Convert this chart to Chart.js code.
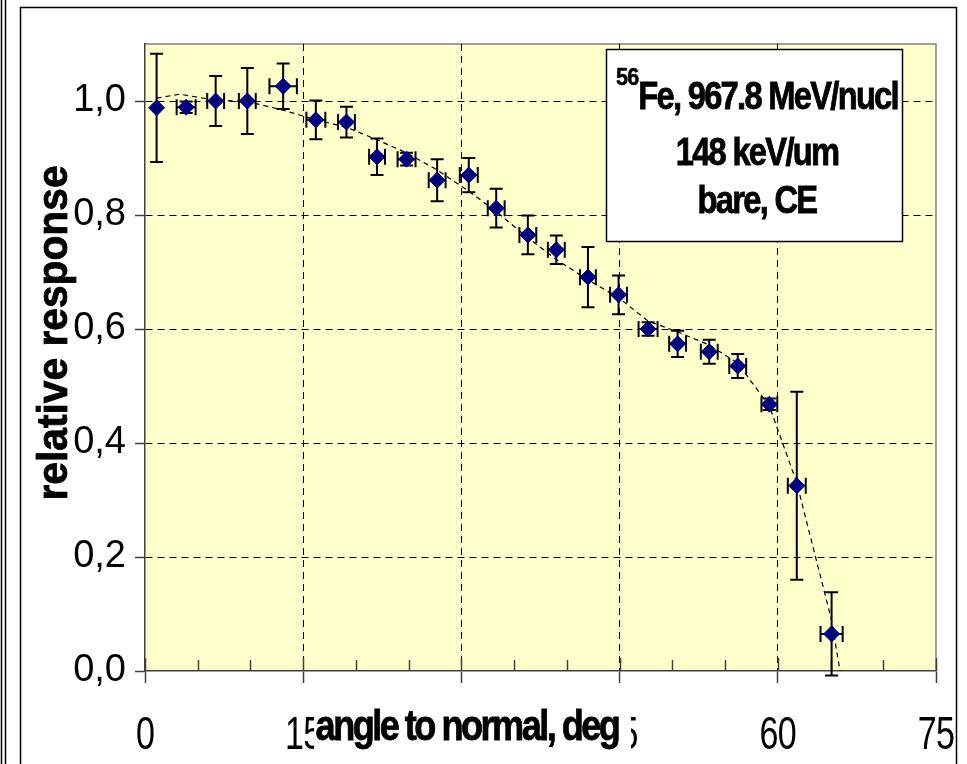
<!DOCTYPE html>
<html>
<head>
<meta charset="utf-8">
<script src="https://cdn.jsdelivr.net/npm/chart.js@4.4.0/dist/chart.umd.min.js"></script>
<style>
  html, body { margin: 0; padding: 0; background: #fff; }
  #wrap { width: 967px; height: 764px; }
</style>
</head>
<body>
<div id="wrap"><canvas id="chart" width="967" height="764"></canvas></div>
<script>
// measured points (angle in deg, relative response) with error bars
const angles = [1.1, 3.9, 6.7, 9.7, 13.1, 16.2, 19.1, 22.0, 24.8, 27.7, 30.7, 33.3, 36.3, 39.0, 42.0, 44.9, 47.7, 50.5, 53.5, 56.2, 59.2, 61.8, 65.1];
const response = [0.988, 0.989, 1.000, 1.000, 1.026, 0.967, 0.963, 0.902, 0.898, 0.861, 0.870, 0.812, 0.765, 0.739, 0.691, 0.660, 0.600, 0.574, 0.560, 0.535, 0.468, 0.325, 0.065];
const respErr = [0.095, 0.010, 0.044, 0.058, 0.040, 0.034, 0.027, 0.032, 0.011, 0.037, 0.030, 0.034, 0.034, 0.025, 0.053, 0.034, 0.012, 0.023, 0.021, 0.021, 0.010, 0.165, 0.073];
const angleErr = [0, 0.9, 0.8, 0.8, 1.3, 0.9, 0.8, 0.75, 0.85, 0.8, 0.85, 0.8, 0.8, 0.8, 0.75, 0.8, 0.9, 0.8, 0.8, 0.8, 0.75, 0.85, 1.05];

// dashed model curve
const fitAngle = [1.1, 3.3, 6.5, 9.7, 13.1, 16.2, 19.1, 22.0, 24.8, 27.7, 30.7, 33.3, 36.3, 39.0, 42.0, 44.9, 47.7, 50.5, 53.5, 56.2, 59.2, 61.8, 65.1, 65.9];
const fitResp = [1.005, 1.012, 1.002, 0.999, 0.984, 0.967, 0.954, 0.932, 0.909, 0.879, 0.842, 0.806, 0.760, 0.722, 0.686, 0.655, 0.614, 0.595, 0.572, 0.540, 0.465, 0.330, 0.089, 0.0];

const xTicks = [0, 15, 30, 45, 60, 75];
const xMinorTicks = [5, 10, 20, 25, 35, 40, 50, 55, 65, 70];
const yTicks = [0, 0.2, 0.4, 0.6, 0.8, 1.0];

const xTitle = "angle to normal, deg";
const yTitle = "relative response";
const noteSup = "56";
const noteLines = ["Fe, 967.8 MeV/nucl", "148 keV/um", "bare, CE"];

const FONT = '"Liberation Sans", Arial, sans-serif';
const clear = "rgba(0,0,0,0)";

// squeezed text, like the narrow Excel rendering
function squeezed(ctx, text, x, y, sx, heavy) {
  ctx.save();
  ctx.translate(x, y);
  ctx.scale(sx, 1);
  ctx.fillText(text, 0, 0);
  if (heavy) {
    ctx.lineWidth = heavy;
    ctx.strokeStyle = ctx.fillStyle;
    ctx.strokeText(text, 0, 0);
  }
  ctx.restore();
}

const sketch = {
  id: "sketch",
  beforeDraw(chart) {
    const { ctx, chartArea: a } = chart;
    ctx.save();
    ctx.fillStyle = "#fff";
    ctx.fillRect(0, 0, chart.width, chart.height);
    ctx.fillStyle = "#FFFFCC";
    ctx.fillRect(a.left, a.top, a.right - a.left, a.bottom - a.top);
    ctx.strokeStyle = "#808080";
    ctx.lineWidth = 1.5;
    ctx.beginPath();
    ctx.moveTo(a.left, a.top);
    ctx.lineTo(a.right, a.top);
    ctx.lineTo(a.right, a.bottom);
    ctx.stroke();
    ctx.restore();
  },
  beforeDatasetsDraw(chart) {
    const { ctx, chartArea: a, scales: { x, y } } = chart;
    ctx.save();
    // inner tick marks on the x axis
    ctx.strokeStyle = "#404040";
    ctx.lineWidth = 1.5;
    ctx.beginPath();
    xMinorTicks.forEach(v => {
      const px = Math.round(x.getPixelForValue(v)) + 0.5;
      ctx.moveTo(px, a.bottom);
      ctx.lineTo(px, a.bottom - 11);
    });
    xTicks.forEach(v => {
      const px = Math.round(x.getPixelForValue(v)) + 0.5;
      ctx.moveTo(px, a.bottom);
      ctx.lineTo(px, a.bottom - 13);
    });
    ctx.stroke();

    // error bars
    ctx.strokeStyle = "#000";
    ctx.lineWidth = 2;
    angles.forEach((ang, i) => {
      const px = x.getPixelForValue(ang);
      const py = y.getPixelForValue(response[i]);
      const t = y.getPixelForValue(response[i] + respErr[i]);
      const b = y.getPixelForValue(response[i] - respErr[i]);
      ctx.beginPath();
      ctx.moveTo(px, t); ctx.lineTo(px, b);
      ctx.moveTo(px - 6.5, t); ctx.lineTo(px + 6.5, t);
      ctx.moveTo(px - 6.5, b); ctx.lineTo(px + 6.5, b);
      if (angleErr[i]) {
        const l = x.getPixelForValue(ang - angleErr[i]);
        const r = x.getPixelForValue(ang + angleErr[i]);
        ctx.moveTo(l, py); ctx.lineTo(r, py);
        ctx.moveTo(l, py - 8); ctx.lineTo(l, py + 8);
        ctx.moveTo(r, py - 8); ctx.lineTo(r, py + 8);
      }
      ctx.stroke();
    });
    ctx.restore();
  },
  afterDraw(chart) {
    const { ctx, scales: { x } } = chart;
    ctx.save();
    ctx.fillStyle = "#000";
    ctx.textAlign = "center";
    ctx.textBaseline = "alphabetic";

    // x tick labels
    ctx.font = "46px " + FONT;
    ctx.letterSpacing = "-1px";
    xTicks.forEach(v => squeezed(ctx, String(v), x.getPixelForValue(v), 749, 0.74));

    // x title sits on a white box over the middle labels
    ctx.fillStyle = "#fff";
    ctx.fillRect(314, 702, 317, 58);
    ctx.fillStyle = "#000";
    ctx.font = "bold 43px " + FONT;
    ctx.letterSpacing = "-3px";
    squeezed(ctx, xTitle, 467, 740, 0.84, 0.8);

    // y title
    ctx.save();
    ctx.translate(67, 333);
    ctx.rotate(-Math.PI / 2);
    ctx.font = "bold 42px " + FONT;
    ctx.letterSpacing = "0px";
    squeezed(ctx, yTitle, 0, 0, 0.97, 0.8);
    ctx.restore();

    // note box
    ctx.fillStyle = "#fff";
    ctx.fillRect(606, 49, 297, 193);
    ctx.strokeStyle = "#000";
    ctx.lineWidth = 1.5;
    ctx.strokeRect(606.5, 49.5, 296, 192);
    ctx.fillStyle = "#000";
    const cx = 757;
    ctx.letterSpacing = "-2px";
    ctx.font = "bold 38px " + FONT;
    const mainW = ctx.measureText(noteLines[0]).width * 0.86;
    ctx.letterSpacing = "-1px";
    ctx.font = "bold 24px " + FONT;
    const supW = ctx.measureText(noteSup).width * 0.9;
    const x0 = cx - (mainW + supW) / 2;
    ctx.textAlign = "left";
    squeezed(ctx, noteSup, x0, 85, 0.9, 0.5);
    ctx.letterSpacing = "-2px";
    ctx.font = "bold 38px " + FONT;
    squeezed(ctx, noteLines[0], x0 + supW, 109, 0.86, 0.8);
    ctx.textAlign = "center";
    squeezed(ctx, noteLines[1], cx, 165, 0.86, 0.8);
    squeezed(ctx, noteLines[2], cx, 213, 0.86, 0.8);
    ctx.letterSpacing = "0px";

    // outer frames
    ctx.strokeStyle = "#000";
    ctx.lineWidth = 1.5;
    ctx.beginPath();
    ctx.moveTo(20.5, 764); ctx.lineTo(20.5, 7.5); ctx.lineTo(956.5, 7.5); ctx.lineTo(956.5, 764);
    ctx.moveTo(1.5, 0); ctx.lineTo(1.5, 764);
    ctx.moveTo(5.5, 0); ctx.lineTo(5.5, 764);
    ctx.stroke();
    ctx.restore();
  }
};

new Chart(document.getElementById("chart"), {
  type: "scatter",
  data: {
    datasets: [
      {
        type: "line",
        data: fitAngle.map((a, i) => ({ x: a, y: fitResp[i] })),
        borderColor: "#000",
        borderWidth: 1.2,
        borderDash: [5, 4],
        pointRadius: 0,
        fill: false,
        tension: 0,
        order: 2
      },
      {
        data: angles.map((a, i) => ({ x: a, y: response[i] })),
        pointStyle: "rectRot",
        pointRadius: 8,
        backgroundColor: "#000080",
        borderColor: "#000080",
        borderWidth: 1,
        order: 1
      }
    ]
  },
  options: {
    responsive: false,
    animation: false,
    events: [],
    layout: { padding: { top: 44, right: 31, left: 0, bottom: 0 } },
    plugins: { legend: { display: false }, tooltip: { enabled: false } },
    scales: {
      x: {
        type: "linear",
        min: 0,
        max: 75,
        afterBuildTicks: s => { s.ticks = xTicks.map(v => ({ value: v })); },
        afterFit: s => { s.height = 93; },
        ticks: { display: false },
        grid: {
          color: c => (c.tick && (c.tick.value === 0 || c.tick.value === 75)) ? clear : "#000",
          lineWidth: 1,
          tickLength: 12,
          tickColor: "#404040",
          tickWidth: 1.5
        },
        border: { color: "#404040", width: 1.5, dash: [7, 5] }
      },
      y: {
        min: 0,
        max: 1.1,
        afterBuildTicks: s => { s.ticks = yTicks.map(v => ({ value: v })); },
        afterFit: s => { s.width = 145; },
        ticks: {
          color: "#000",
          padding: 9,
          font: { family: FONT, size: 38 },
          callback: v => v.toFixed(1).replace(".", ",")
        },
        grid: {
          color: c => (c.tick && c.tick.value === 0) ? clear : "#000",
          lineWidth: 1,
          tickLength: 10,
          tickColor: "#404040",
          tickWidth: 1.5
        },
        border: { color: "#404040", width: 1.5, dash: [7, 5] }
      }
    }
  },
  plugins: [sketch]
});
</script>
</body>
</html>
